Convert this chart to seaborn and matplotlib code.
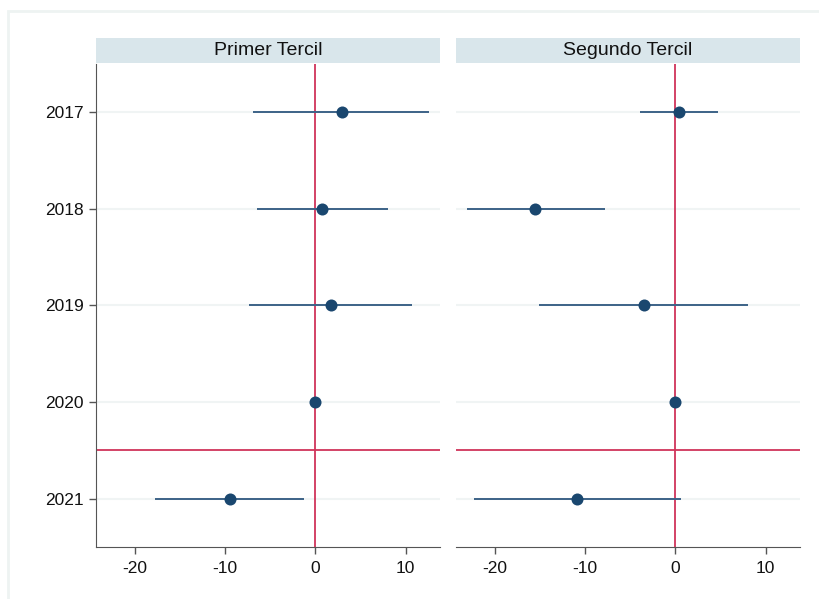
# coefficient plot by tercile, two facets
import numpy as np
import pandas as pd
import matplotlib
matplotlib.use("Agg")
import matplotlib.pyplot as plt
import seaborn as sns

years = ["2017", "2018", "2019", "2020", "2021"]
panels = ["Primer Tercil", "Segundo Tercil"]

# point estimates and confidence bounds
est_primer = [2.9, 0.7, 1.7, 0.0, -9.5]
lo_primer = [-6.9, -6.5, -7.4, 0.0, -17.8]
hi_primer = [12.6, 8.0, 10.7, 0.0, -1.3]

est_segundo = [0.4, -15.5, -3.5, 0.0, -10.9]
lo_segundo = [-3.9, -23.1, -15.1, 0.0, -22.3]
hi_segundo = [4.7, -7.8, 8.0, 0.0, 0.6]

xticks = [-20, -10, 0, 10]
break_pos = 4.5  # red line between 2020 and 2021

sns.set_style("white")
plt.rcParams["font.family"] = ["Liberation Sans", "DejaVu Sans"]
plt.rcParams["text.color"] = "#111111"
plt.rcParams["xtick.color"] = "#111111"
plt.rcParams["ytick.color"] = "#111111"

df = pd.DataFrame({
    "panel": np.repeat(panels, len(years)),
    "year": years * 2,
    "pos": list(range(1, 6)) * 2,
    "est": est_primer + est_segundo,
    "lo": lo_primer + lo_segundo,
    "hi": hi_primer + hi_segundo,
})

W, H = 819, 599
fig = plt.figure(figsize=(W / 100, H / 100), dpi=100)

# faint outer frame of the graph region
fig.patches.append(plt.Rectangle((8 / W, -0.1), 1.2, 1 - 11 / H + 0.1,
                                 transform=fig.transFigure, fill=False,
                                 edgecolor="#eef3f2", linewidth=2))

navy = "#1a476f"
ci_col = "#3d6388"
red = "#d0345a"

lefts = [96, 456]
width = 344
bottom, top = 547, 64

for i, name in enumerate(panels):
    sub = df[df["panel"] == name]
    ax = fig.add_axes([lefts[i] / W, 1 - bottom / H, width / W, (bottom - top) / H])
    for p in sub["pos"]:
        ax.axhline(p, color="#f0f4f4", linewidth=1.5, zorder=0)
    ax.axvline(0, color=red, linewidth=1.3, zorder=1)
    ax.axhline(break_pos, color=red, linewidth=1.3, zorder=1)
    ax.hlines(sub["pos"], sub["lo"], sub["hi"], color=ci_col, linewidth=1.4, zorder=2)
    sns.scatterplot(data=sub, x="est", y="pos", ax=ax, color=navy, s=75,
                    edgecolor=navy, linewidth=0, zorder=3)
    ax.set_xlim(-24.3, 13.8)
    ax.set_ylim(5.5, 0.5)
    ax.set_xticks(xticks)
    ax.set_xticklabels([str(t) for t in xticks], fontsize=12.5)
    ax.set_xlabel("")
    ax.set_ylabel("")
    for s in ["top", "right"]:
        ax.spines[s].set_visible(False)
    ax.spines["bottom"].set_color("#555555")
    ax.spines["left"].set_color("#555555")
    ax.tick_params(axis="x", bottom=True, direction="out", length=5, width=1,
                   color="#555555", pad=5)
    if i == 0:
        ax.set_yticks(sub["pos"])
        ax.set_yticklabels(years, fontsize=12.5)
        ax.tick_params(axis="y", left=True, direction="out", length=5, width=1,
                       color="#555555", pad=4)
    else:
        ax.set_yticks([])
        ax.spines["left"].set_visible(False)

    # facet strip
    sax = fig.add_axes([lefts[i] / W, 1 - 63 / H, width / W, 25 / H])
    sax.set_facecolor("#d9e6eb")
    sax.set_xticks([])
    sax.set_yticks([])
    for s in sax.spines.values():
        s.set_visible(False)
    sax.text(0.5, 0.5, name, ha="center", va="center", fontsize=14, color="#111111")

fig.savefig("out.png", dpi=100)
